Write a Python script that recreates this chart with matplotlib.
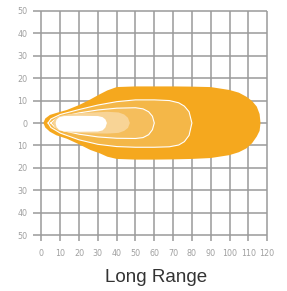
import matplotlib
matplotlib.use('Agg')
import matplotlib.pyplot as plt
import numpy as np

# Beam pattern contours (x = distance, top / bottom = lateral spread)
outer_x = [1, 2, 4.5, 8, 13.5, 20, 26, 31, 35, 40, 50, 60, 70, 80, 90, 100, 105, 109, 112, 114.5, 116, 116.5]
outer_top = [0, 2, 3.6, 4.5, 5.8, 8, 10.5, 12.8, 14.5, 16, 16.3, 16.3, 16.3, 16.2, 16, 14.7, 13.5, 11.7, 9.8, 7.3, 4, 0]
outer_bot = [0, -2, -3.9, -5.5, -7, -9.5, -12, -13.5, -15, -16, -16.3, -16.3, -16.2, -16, -15.6, -14.3, -13, -11.3, -9, -6, -3.5, 0]

mid_x = [3.5, 5, 10, 20, 30, 40, 50, 60, 68, 73, 76, 78.5, 80]
mid_top = [0, 1.8, 3.8, 6, 8, 9.5, 10.3, 10.3, 10, 9, 7.5, 5, 0]
mid_bot = [0, -2, -4.5, -7.5, -9.5, -10.5, -10.8, -10.8, -10.6, -9.8, -8.3, -5.5, 0]

inner_x = [5, 7, 12, 20, 30, 40, 50, 54, 57, 59, 60]
inner_top = [0, 1.5, 3, 4.5, 5.8, 6.6, 6.8, 6.3, 5, 3, 0]
inner_bot = [0, -1.8, -3.5, -5, -6.2, -6.8, -6.9, -6.5, -5.2, -3, 0]

light_x = [6, 7, 9, 15, 25, 35, 41, 44, 46, 47]
light_top = [0, 1.8, 3, 4, 4.6, 5, 4.7, 3.8, 2.3, 0]
light_bot = [0, -2, -3.3, -4.2, -4.6, -4.7, -4.4, -3.5, -2.2, 0]

core_x = [7.5, 8, 9.5, 12, 20, 30, 32.5, 34, 34.8]
core_top = [0, 1.5, 2.6, 3.1, 3.2, 3.1, 2.6, 1.6, 0]
core_bot = [0, -1.8, -3.2, -3.8, -3.9, -3.8, -3.3, -2, 0]

x_ticks = list(range(0, 121, 10))
y_ticks = list(range(-50, 51, 10))
y_labels = [str(abs(v)) for v in y_ticks]

fig = plt.figure(figsize=(2.87, 2.91), dpi=100)
ax = fig.add_axes([0.1118, 0.1684, 0.832, 0.8024])
ax.set_xlim(-5, 122)
ax.set_ylim(-53, 51)
for s in ax.spines.values():
    s.set_visible(False)

# grid with extended ticks
grid_col = '#9a9a9a'
ax.hlines(y_ticks, -4.5, 120, color=grid_col, lw=1.1, zorder=1)
ax.vlines(x_ticks, -52.5, 50, color=grid_col, lw=1.1, zorder=1)


def contour(xs, top, bot, color, edge=None, z=2):
    px = list(xs) + list(xs[::-1])
    py = list(top) + list(bot[::-1])
    ax.fill(px, py, color=color, zorder=z, lw=0)
    if edge:
        ax.plot(px + [px[0]], py + [py[0]], color=edge, lw=0.8, zorder=z + 0.5)


contour(outer_x, outer_top, outer_bot, '#f5a81e', z=2)
contour(mid_x, mid_top, mid_bot, '#f4b748', edge='white', z=3)
contour(inner_x, inner_top, inner_bot, '#f5be5c', edge='white', z=4)
contour(light_x, light_top, light_bot, '#f8d496', z=5)
contour(core_x, core_top, core_bot, 'white', z=6)

ax.set_xticks(x_ticks)
ax.set_yticks(y_ticks)
ax.set_yticklabels(y_labels)
ax.tick_params(length=0, labelsize=5.8, labelcolor='#a0a0a0')
ax.tick_params(axis='y', pad=3.5)
ax.tick_params(axis='x', pad=5)

fig.text(0.543, 0.048, 'Long Range', ha='center', va='center',
         fontsize=13.5, color='#333333', family=['Liberation Sans', 'DejaVu Sans'])

fig.savefig('out.png', dpi=100)
